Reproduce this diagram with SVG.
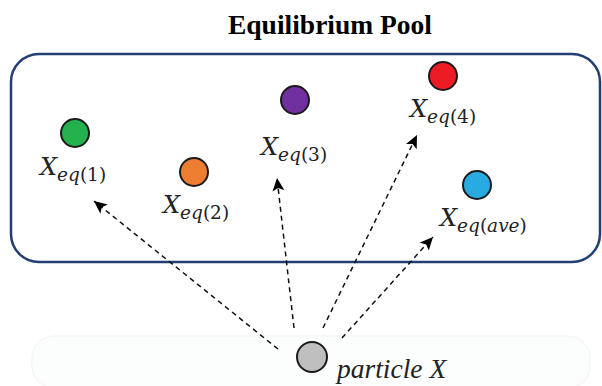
<svg xmlns="http://www.w3.org/2000/svg" width="602" height="386" viewBox="0 0 602 386">
<defs>
<marker id="ah" markerWidth="14" markerHeight="12" refX="13" refY="6" orient="auto" markerUnits="userSpaceOnUse">
<path d="M0,0 L13,6 L0,12 L3,6 Z" fill="#000"/>
</marker>
<style>
.title{font-family:"Liberation Serif",serif;font-weight:bold;font-size:27.5px;fill:#000}
.pt{stroke:#1a1a1a;stroke-width:2}
.lbl{font-family:"DejaVu Serif","Liberation Serif",serif;font-style:italic;fill:#222}
.X{font-size:24px}
.sub{font-size:18.5px}
.up{font-style:normal}
.ptxt{font-family:"Liberation Serif",serif;font-style:italic;font-size:27.5px;fill:#222}
.conn{stroke:#111;stroke-width:1.5;stroke-dasharray:5,4;fill:none;marker-end:url(#ah)}
</style>
</defs>
<rect width="602" height="386" fill="#fff"/>
<rect x="32" y="336" width="558" height="52" rx="22" fill="#fcfdfd" stroke="#f5f7f7" stroke-width="1.5"/>
<text class="title" x="330" y="34" text-anchor="middle">Equilibrium Pool</text>
<rect id="pool" x="11" y="54" width="589" height="208" rx="28" fill="none" stroke="#213f74" stroke-width="2.5"/>
<g id="conns">
<line class="conn" x1="278" y1="349" x2="94" y2="201"/>
<line class="conn" x1="294" y1="328" x2="277" y2="178"/>
<line class="conn" x1="323" y1="328" x2="417" y2="135"/>
<line class="conn" x1="342" y1="338" x2="433" y2="237"/>
</g>
<g id="xeq1">
<circle class="pt" cx="75" cy="133" r="14" fill="#22b14c"/>
<text class="lbl" x="40" y="175"><tspan class="X">X</tspan><tspan class="sub" dy="6">eq<tspan class="up">(1)</tspan></tspan></text>
</g>
<g id="xeq2">
<circle class="pt" cx="194" cy="172" r="14" fill="#ed7d31"/>
<text class="lbl" x="163" y="213"><tspan class="X">X</tspan><tspan class="sub" dy="6">eq<tspan class="up">(2)</tspan></tspan></text>
</g>
<g id="xeq3">
<circle class="pt" cx="295" cy="100" r="14" fill="#7030a0"/>
<text class="lbl" x="261" y="155"><tspan class="X">X</tspan><tspan class="sub" dy="6">eq<tspan class="up">(3)</tspan></tspan></text>
</g>
<g id="xeq4">
<circle class="pt" cx="443" cy="76" r="14" fill="#ed1c24"/>
<text class="lbl" x="410" y="117"><tspan class="X">X</tspan><tspan class="sub" dy="6">eq<tspan class="up">(4)</tspan></tspan></text>
</g>
<g id="xeqave">
<circle class="pt" cx="477" cy="185" r="14" fill="#29abe2"/>
<text class="lbl" x="440" y="226"><tspan class="X">X</tspan><tspan class="sub" dy="6">eq<tspan class="up">(</tspan>ave<tspan class="up">)</tspan></tspan></text>
</g>
<g id="particle">
<circle class="pt" cx="312" cy="357" r="15" fill="#bfbfbf"/>
<text class="ptxt" x="337" y="378">particle X</text>
</g>
</svg>
